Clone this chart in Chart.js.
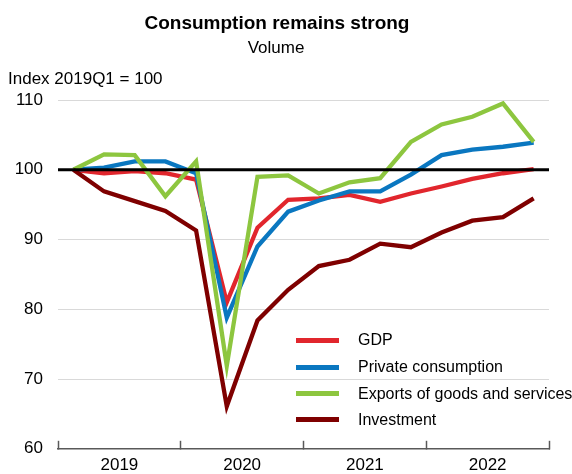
<!DOCTYPE html>
<html>
<head>
<meta charset="utf-8">
<script src="https://cdn.jsdelivr.net/npm/chart.js@4"></script>
<style>
  html, body { margin:0; padding:0; background:#fff; }
  #wrap { position:relative; width:572px; height:474px; font-family:"Liberation Sans", Arial, sans-serif; color:#000; }
  canvas { position:absolute; left:0; top:0; }
  .t { position:absolute; white-space:nowrap; }
  #title { left:0; width:554px; text-align:center; top:13px; font-size:19px; line-height:19px; font-weight:bold; }
  #sub { left:0; width:552px; text-align:center; top:39px; font-size:17px; line-height:17px; }
  #unit { left:8px; top:70px; font-size:17px; line-height:17px; }
  .lg { position:absolute; left:296px; width:43px; height:5px; }
  .lt { position:absolute; left:358px; font-size:16px; line-height:16px; white-space:nowrap; }
</style>
</head>
<body>
<div id="wrap">
  <canvas id="c" width="572" height="474"></canvas>
  <div class="t" id="title">Consumption remains strong</div>
  <div class="t" id="sub">Volume</div>
  <div class="t" id="unit">Index 2019Q1 = 100</div>
  <div id="legend"></div>
</div>
<script>
// ---- data ----
const quarters = ['2019Q1','2019Q2','2019Q3','2019Q4','2020Q1','2020Q2','2020Q3','2020Q4',
                  '2021Q1','2021Q2','2021Q3','2021Q4','2022Q1','2022Q2','2022Q3','2022Q4'];
const years = ['2019','2020','2021','2022'];
const gdp        = [100, 99.5, 99.8, 99.5, 98.6, 81.0, 91.7, 95.7, 95.9, 96.4, 95.4, 96.6, 97.6, 98.7, 99.5, 100.1];
const privCons   = [100, 100.3, 101.2, 101.2, 99.5, 78.8, 89.0, 94.0, 95.6, 96.9, 96.9, 99.3, 102.1, 102.9, 103.3, 103.9];
const exportsGS  = [100, 102.2, 102.1, 96.2, 101.2, 71.9, 99.0, 99.2, 96.6, 98.2, 98.8, 104.0, 106.5, 107.6, 109.5, 104.0];
const investment = [100, 96.9, 95.5, 94.1, 91.3, 66.1, 78.4, 82.8, 86.2, 87.1, 89.4, 88.9, 91.0, 92.7, 93.2, 95.9];
const seriesNames = ['GDP', 'Private consumption', 'Exports of goods and services', 'Investment'];
const yTicks = [60, 70, 80, 90, 100, 110];
const baseValue = 100;

const colors = ['#e1262d', '#0a77c0', '#8dc63f', '#7f0000'];
const seriesData = [gdp, privCons, exportsGS, investment];

const toPts = arr => arr.map((v, i) => ({ x: i + 0.5, y: v }));

const datasets = seriesData.map((arr, k) => ({
  label: seriesNames[k],
  data: toPts(arr),
  borderColor: colors[k],
  backgroundColor: colors[k],
  borderWidth: 4.3,
  pointRadius: 0,
  tension: 0,
  fill: false,
  order: 4 - k
}));

const baselinePlugin = {
  id: 'baseline',
  afterDatasetsDraw(chart) {
    const { ctx, chartArea, scales } = chart;
    const y = scales.y.getPixelForValue(baseValue);
    ctx.save();
    ctx.strokeStyle = '#000';
    ctx.lineWidth = 3;
    ctx.beginPath();
    ctx.moveTo(chartArea.left, y);
    ctx.lineTo(chartArea.right, y);
    ctx.stroke();
    ctx.restore();
  }
};

const FONT = "'Liberation Sans', Arial, sans-serif";

new Chart(document.getElementById('c'), {
  type: 'line',
  data: { datasets },
  plugins: [baselinePlugin],
  options: {
    responsive: false,
    devicePixelRatio: 1,
    animation: false,
    layout: { padding: { top: 100, right: 23, left: 0, bottom: 0 } },
    plugins: { legend: { display: false }, tooltip: { enabled: false }, title: { display: false } },
    scales: {
      x: {
        type: 'linear',
        min: 0,
        max: quarters.length,
        afterBuildTicks: (scale) => {
          const t = [];
          for (let v = 0; v <= quarters.length; v += 2) t.push({ value: v });
          scale.ticks = t;
        },
        afterFit: (scale) => { scale.height = 24; },
        grid: {
          display: true,
          drawOnChartArea: false,
          drawTicks: true,
          tickLength: -8,
          tickWidth: 1.5,
          tickColor: (ctx) => (ctx.tick && ctx.tick.value % 4 === 0) ? '#595959' : 'rgba(0,0,0,0)'
        },
        border: { display: true, color: '#595959', width: 1.5 },
        ticks: {
          autoSkip: false,
          maxRotation: 0,
          padding: 14,
          color: '#000',
          font: { family: FONT, size: 17 },
          callback: (v) => (v % 4 === 2) ? years[(v - 2) / 4] : ''
        }
      },
      y: {
        min: 60,
        max: 110,
        afterBuildTicks: (scale) => { scale.ticks = yTicks.map(v => ({ value: v })); },
        afterFit: (scale) => { scale.width = 58; },
        border: { display: false },
        grid: {
          drawTicks: false,
          color: (ctx) => (ctx.tick && ctx.tick.value === baseValue) ? 'rgba(0,0,0,0)' : '#d9d9d9',
          lineWidth: 1
        },
        ticks: {
          padding: 15,
          color: '#000',
          font: { family: FONT, size: 17 }
        }
      }
    }
  }
});

// HTML legend (inside plot area, lower right)
const legend = document.getElementById('legend');
const rowCenters = [340, 367, 393.5, 419.5];
seriesNames.forEach((name, k) => {
  const line = document.createElement('div');
  line.className = 'lg';
  line.style.background = colors[k];
  line.style.top = (rowCenters[k] - 2.5) + 'px';
  legend.appendChild(line);
  const txt = document.createElement('div');
  txt.className = 'lt';
  txt.textContent = name;
  txt.style.top = (rowCenters[k] - 7.8) + 'px';
  legend.appendChild(txt);
});
</script>
</body>
</html>
